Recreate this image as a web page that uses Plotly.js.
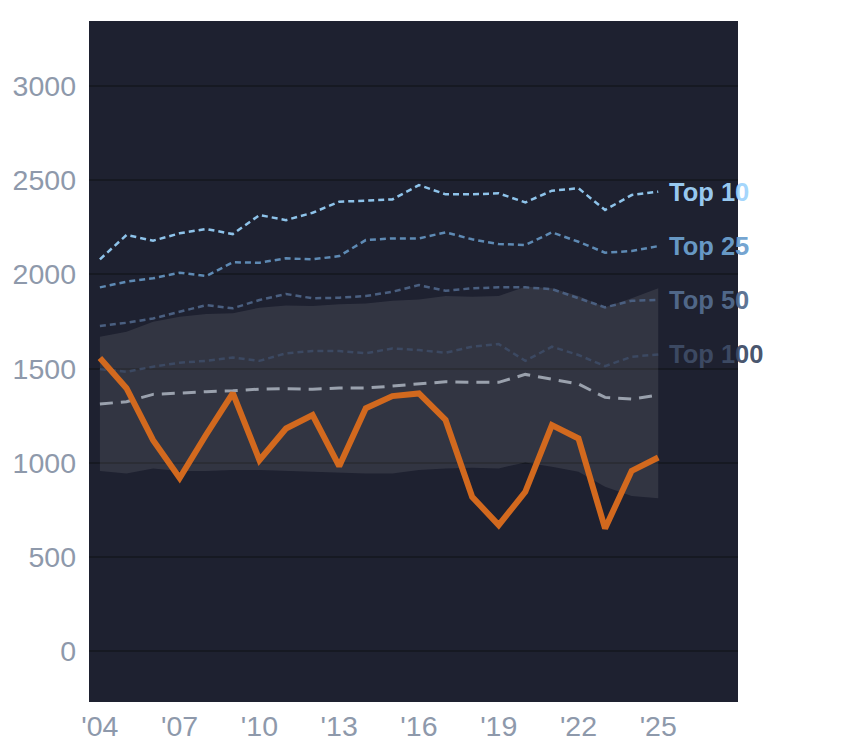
<!DOCTYPE html>
<html>
<head>
<meta charset="utf-8">
<script src="https://cdn.plot.ly/plotly-3.0.1.min.js"></script>
<style>
  html, body { margin: 0; padding: 0; background: #fff; }
  #chart { width: 844px; height: 748px; }
</style>
</head>
<body>
<div id="chart"></div>
<script>
// seasons on the x axis
const years = [2004, 2005, 2006, 2007, 2008, 2009, 2010, 2011, 2012, 2013, 2014,
               2015, 2016, 2017, 2018, 2019, 2020, 2021, 2022, 2023, 2024, 2025];

// highlighted series (orange)
const player = [1556, 1396, 1120, 919, 1150, 1370, 1014, 1182, 1253, 982, 1289,
                1354, 1368, 1227, 819, 669, 846, 1200, 1129, 651, 957, 1028];

// median (grey dashed)
const median = [1312, 1324, 1363, 1372, 1377, 1382, 1391, 1393, 1390, 1397, 1397,
                1407, 1418, 1430, 1427, 1427, 1469, 1443, 1418, 1347, 1338, 1359];

// shaded band (range)
const bandLow = [956, 943, 970, 956, 956, 961, 961, 956, 952, 949, 943,
                 943, 961, 970, 973, 970, 1002, 979, 952, 872, 823, 811];
const bandHigh = [1669, 1696, 1749, 1775, 1789, 1793, 1823, 1835, 1832, 1842, 1846,
                  1860, 1867, 1885, 1881, 1885, 1934, 1926, 1885, 1825, 1873, 1926];

// rank thresholds (dotted)
const top10 = [2080, 2209, 2179, 2218, 2241, 2214, 2315, 2288, 2327, 2386, 2391,
               2398, 2474, 2425, 2425, 2430, 2382, 2444, 2457, 2342, 2421, 2439];
const top25 = [1931, 1961, 1979, 2009, 1991, 2064, 2062, 2085, 2080, 2097, 2182,
               2191, 2191, 2223, 2186, 2161, 2156, 2223, 2173, 2115, 2124, 2150];
const top50 = [1726, 1743, 1766, 1802, 1837, 1820, 1864, 1896, 1873, 1876, 1885,
               1908, 1943, 1913, 1926, 1931, 1931, 1922, 1873, 1825, 1860, 1864];
const top100 = [1497, 1483, 1510, 1531, 1541, 1559, 1541, 1581, 1593, 1593, 1581,
                1607, 1598, 1584, 1616, 1630, 1541, 1616, 1572, 1513, 1563, 1575];

const tierNames = ['Top 10', 'Top 25', 'Top 50', 'Top 100'];
const xTickVals = [2004, 2007, 2010, 2013, 2016, 2019, 2022, 2025];
const xTickText = ["'04", "'07", "'10", "'13", "'16", "'19", "'22", "'25"];

const tierSeries = [top10, top25, top50, top100];
const tierLine = ['#8ec3ea', '#5e8ab4', '#4a5f80', '#3c4962'];
const tierText = ['rgba(160,212,252,0.95)', 'rgba(108,160,206,0.95)',
                  'rgba(84,108,142,0.95)', 'rgba(62,76,102,0.95)'];

const traces = [];

// band: lower edge, then upper edge filled down to it
traces.push({
    x: years, y: bandLow, mode: 'lines',
    line: {width: 0, color: 'rgba(0,0,0,0)'},
    hoverinfo: 'skip'
});
traces.push({
    x: years, y: bandHigh, mode: 'lines',
    line: {width: 0, color: 'rgba(0,0,0,0)'},
    fill: 'tonexty', fillcolor: 'rgba(255,255,255,0.09)',
    hoverinfo: 'skip'
});

// tier lines, faintest first so Top 10 ends on top
for (let i = tierSeries.length - 1; i >= 0; i--) {
    traces.push({
        x: years, y: tierSeries[i], mode: 'lines',
        line: {color: tierLine[i], width: 2.5, dash: '6px,4px'},
        hoverinfo: 'skip'
    });
}

traces.push({
    x: years, y: median, mode: 'lines',
    line: {color: '#9aa1ad', width: 3, dash: '13px,8px'},
    hoverinfo: 'skip'
});

traces.push({
    x: years, y: player, mode: 'lines',
    line: {color: '#d2691e', width: 6},
    hoverinfo: 'skip'
});

// labels sit at the last value of each tier line
const annotations = tierNames.map((name, i) => ({
    x: years[years.length - 1],
    y: tierSeries[i][tierSeries[i].length - 1],
    xref: 'x', yref: 'y',
    text: '<b>' + name + '</b>',
    showarrow: false,
    xanchor: 'left', yanchor: 'middle',
    xshift: 9,
    font: {family: 'Liberation Sans, Arial, sans-serif', size: 25.5, color: tierText[i]}
}));

const layout = {
    width: 844,
    height: 748,
    margin: {l: 89, r: 106, t: 21, b: 46},
    paper_bgcolor: '#ffffff',
    plot_bgcolor: '#1e2130',
    showlegend: false,
    font: {family: 'Liberation Sans, Arial, sans-serif', color: '#8e99ab', size: 28.5},
    xaxis: {
        range: [2003.59, 2028.0],
        tickvals: xTickVals,
        ticktext: xTickText,
        showgrid: false,
        zeroline: false,
        showline: false,
        ticks: '',
        ticklabelstandoff: 4,
        tickfont: {size: 28.5, color: '#8e99ab'}
    },
    yaxis: {
        range: [-270, 3345],
        tickvals: [0, 500, 1000, 1500, 2000, 2500, 3000],
        showgrid: true,
        gridcolor: '#161922',
        gridwidth: 2,
        zeroline: false,
        showline: false,
        ticks: '',
        ticklabelstandoff: 12,
        tickfont: {size: 28.5, color: '#8e99ab'}
    },
    annotations: annotations
};

Plotly.newPlot('chart', traces, layout, {staticPlot: true, displayModeBar: false});
</script>
</body>
</html>
